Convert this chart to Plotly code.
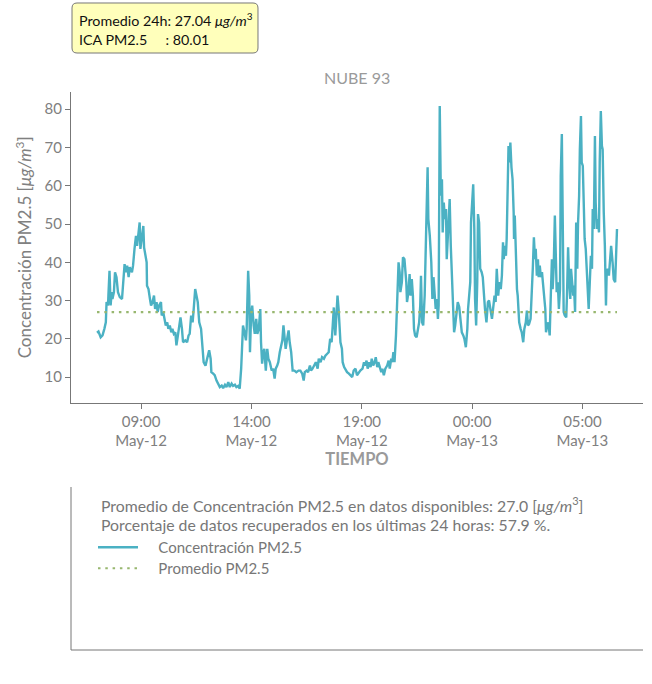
import plotly.graph_objects as go
from datetime import datetime, timedelta

# ---------------- data ----------------
estacion = "NUBE 93"
inicio = "2023-05-12 07:00"          # first sample time
# minutes since `inicio`
minutos = [
    0, 4, 10, 15, 20, 24, 26, 30, 31, 34, 37, 40, 42, 46, 49, 53, 57, 62, 68, 71, 75, 78, 82, 86, 89, 95, 98,
    102, 106, 109, 113, 116, 118, 122, 126, 128, 131, 135, 136, 140, 144, 147, 151, 155, 158, 162, 165, 169,
    174, 176, 180, 184, 187, 191, 194, 198, 202, 205, 209, 213, 216, 220, 223, 227, 231, 234, 240, 245, 249,
    252, 256, 260, 263, 267,
    274, 278, 283, 287, 290, 295, 300, 305, 309, 311, 316, 320, 325, 329, 334, 339, 343, 348, 352, 357, 361,
    366, 370, 375, 379, 384, 388, 392, 396, 397, 401, 405, 407, 411, 414, 416, 419, 422, 426, 429, 433, 436,
    440, 444, 446, 449, 452, 455, 459, 463, 466, 470, 475, 479, 483, 486, 490, 493, 497, 501, 504, 507, 510,
    513, 517, 521, 524, 528, 532, 537, 542, 548,
    553, 558, 562, 565, 570, 574, 579, 582, 586, 591, 595, 600, 603, 608, 612, 617, 621, 626, 630, 634, 638,
    641, 644, 648, 651, 654, 657, 659, 662, 666, 668, 672, 677, 680, 685, 689, 694, 698, 703, 707, 712, 716,
    722, 726, 729, 733, 736, 740, 744, 747, 751, 755, 758, 762, 765, 769, 773, 776, 780, 784, 789, 793, 796,
    800, 803, 806, 809, 813, 815, 818, 820, 823, 825, 829, 832,
    836, 841, 843, 847, 850, 853, 856, 859, 862, 865, 869, 872, 876, 879, 881, 884, 887, 891, 893, 896, 899,
    901, 905, 909, 912, 915, 918, 921, 924, 927, 929, 932, 935, 938, 940, 943, 946, 949, 951, 954, 957, 959,
    962, 965, 968, 971, 974, 978, 981, 985, 988, 992, 996, 999, 1003, 1007, 1009, 1012, 1015, 1017, 1020,
    1023, 1026, 1028, 1031, 1034, 1036, 1039, 1042, 1046, 1049, 1052, 1055, 1059, 1063, 1066, 1070, 1074,
    1077, 1081, 1084, 1087, 1091, 1094, 1098, 1101, 1104, 1106, 1109, 1112, 1114, 1117,
    1119, 1122, 1124, 1127, 1130, 1133, 1134, 1136, 1139, 1142, 1144, 1148, 1152, 1155, 1159, 1162, 1166,
    1169, 1172, 1175, 1179, 1182, 1185, 1188, 1191, 1193, 1196, 1199, 1201, 1204, 1207, 1210, 1213, 1216,
    1219, 1221, 1225, 1228, 1231, 1234, 1237, 1239, 1242, 1245, 1248, 1250, 1253, 1256, 1259, 1261, 1264,
    1267, 1269, 1272, 1276, 1278, 1281, 1284, 1287, 1289, 1292, 1295, 1297, 1300, 1303, 1306, 1308, 1311,
    1313, 1316, 1318, 1321, 1324, 1326, 1329, 1332, 1335, 1337, 1340, 1343, 1346, 1348, 1351, 1354, 1356,
    1359, 1362, 1365, 1367, 1370, 1373, 1375, 1378, 1381, 1384, 1386, 1389, 1392, 1394, 1398, 1402, 1405,
    1409, 1412, 1414,
]
pm25 = [
    21.6, 21.9, 20.4, 20.9, 22.6, 24.3, 29.6, 28.7, 31.3, 37.8, 28.7, 32.2, 30.4, 32.2, 37.4, 36.1, 32.2, 30.9,
    30.4, 34.8, 39.5, 37.4, 39.1, 36.1, 38.7, 37.4, 39.1,
    43.5, 46.9, 44.3, 47.8, 50.4, 43.5, 46.1, 49.5, 43.9, 42.6, 40.0, 33.9, 33.0, 30.4, 28.7, 29.6, 31.3, 27.8,
    29.6, 27.0, 28.7,
    29.6, 26.1, 27.0, 25.2, 23.5, 24.3, 22.6, 23.5, 21.7, 22.6, 21.3, 21.7, 18.3, 20.9, 23.5, 25.6, 22.6, 19.1,
    19.6, 19.1, 20.9,
    21.3, 26.1, 24.3, 27.8, 33.0,
    29.6, 24.3, 22.6, 17.4, 13.9, 13.0, 14.8, 17.0, 14.8, 11.3, 10.9, 10.5, 9.1, 8.3, 7.4, 7.8, 7.1, 8.0, 7.4,
    8.7, 7.4,
    8.3, 7.7, 8.0, 7.4, 7.7, 7.0, 12.2, 19.1, 23.5, 21.7, 19.6, 22.6, 37.8, 31.3, 16.5, 26.1, 28.7, 23.5, 21.3,
    25.2, 21.3,
    22.6, 27.8, 19.1, 13.5, 16.5, 17.4, 11.7, 17.4, 14.8, 13.9, 11.7, 12.2, 9.6, 12.2, 13.0, 13.9, 16.5, 18.7,
    19.6, 23.5, 19.1,
    17.4, 20.0, 22.2, 19.1, 16.5, 11.7, 11.7, 11.3, 11.7,
    11.7, 10.9, 9.1, 11.3, 11.7, 11.3, 13.0, 11.7, 12.2, 13.0, 13.9, 12.2, 14.8, 13.9, 15.2, 14.8, 15.6, 16.1,
    16.5, 20.0, 19.1,
    23.5, 28.2, 20.9, 27.0, 31.3, 27.8, 22.6, 19.1, 17.4, 13.9, 12.6, 11.7, 11.3, 10.9, 10.5, 10.0, 11.7, 12.2,
    10.5, 11.3, 11.7,
    12.2, 13.9, 13.0, 14.3, 12.2, 13.9, 12.6, 14.8, 13.0, 13.9, 15.2, 12.6, 13.9, 12.2, 11.3, 12.2, 10.5, 12.2,
    13.0, 14.3, 12.2,
    14.8, 13.9, 16.5, 13.9, 20.9, 27.0, 34.8, 40.0, 37.4, 32.2, 34.8, 41.3,
    40.8, 34.8, 29.6, 32.2, 36.9, 31.3, 35.6, 31.3, 22.6, 20.9, 20.4, 22.6, 24.3, 28.7, 36.5, 24.3, 23.5, 31.3,
    40.0, 53.0, 64.8,
    51.3, 46.9, 40.0, 30.4, 36.1, 32.2, 27.8, 30.4, 25.2, 28.7, 80.8, 57.4, 61.7, 47.8, 55.6, 51.3, 53.9, 40.8,
    47.8, 53.0, 56.5,
    44.3, 37.4, 29.6, 21.7, 23.5, 27.8, 29.6, 28.3, 24.3, 21.7, 20.9, 20.0, 17.8, 22.6, 27.8, 30.4, 34.8, 50.4,
    54.8,
    60.4, 48.7, 30.4, 23.5, 34.8, 52.6, 50.4, 38.3, 37.4, 36.1, 31.3, 27.8, 24.3, 29.6, 30.0, 27.0, 25.2,
    27.8, 31.3, 29.6, 38.3, 31.3, 34.8, 33.0, 36.5, 45.2, 40.8, 44.3, 41.7, 46.1, 61.7,
    70.4, 66.1, 71.3, 64.8, 61.7, 53.0, 46.1, 52.2, 40.0, 33.0, 31.3, 24.3, 22.6, 21.7, 19.1, 22.6, 24.3,
    27.4, 23.5, 23.9, 25.2, 30.4, 38.3, 46.5, 40.8, 43.5, 36.5, 40.8, 36.1, 39.1, 36.1, 37.4, 34.8, 31.3,
    27.8, 21.7, 24.3, 23.5, 20.9, 31.3, 40.8, 33.0, 39.1, 52.2, 38.3, 32.2, 34.8, 27.8, 33.0, 62.6, 73.5,
    40.0, 27.0, 26.1, 25.6, 31.3, 43.9, 34.8, 30.4, 38.3, 34.8, 31.3, 33.9, 27.0, 50.4, 38.3, 50.0, 57.4,
    69.5, 78.2, 66.1, 65.2, 53.9, 46.1, 43.5, 36.5, 31.3, 27.8, 34.8, 41.7, 38.3, 53.9, 48.7, 73.0, 55.6,
    48.7, 51.3, 47.8, 66.1, 79.5, 70.4, 69.5, 53.0, 44.3, 28.7, 37.4, 38.3, 36.5, 39.1, 44.3, 40.0, 35.6,
    34.8, 41.7, 48.7,
]
promedio_pm25 = 27.0
promedio_24h = 27.04
ica_pm25 = 80.01
porcentaje_recuperado = 57.9
tick_inicio = "2023-05-12 09:00"
tick_horas = 5
serie_nombres = ["Concentración PM2.5", "Promedio PM2.5"]

# ---------------- styling ----------------
FONT = "Lato"
TEAL = "#4BB1C3"
GREEN = "#98B76F"
AXIS = "#777777"
TXT = "#808080"
NB = "\u00a0"

t0 = datetime.strptime(inicio, "%Y-%m-%d %H:%M")
tiempos = [t0 + timedelta(minutes=m) for m in minutos]

span = tiempos[-1] - tiempos[0]
xr = [tiempos[0] - span * 0.05, tiempos[-1] + span * 0.05]
ymin, ymax = min(pm25), max(pm25)
ypad = (ymax - ymin) * 0.05
yr = [ymin - ypad, ymax + ypad]

W, H = 652, 684
ML, MR, MT, MB = 71, 9, 92, 34
PH = H - MT - MB
PW = W - ML - MR


def py(pix):  # pixel row -> paper y
    return (H - MB - pix) / PH


def px(pix):  # pixel column -> paper x
    return (pix - ML) / PW


def rounded_box(x0, y0, x1, y1, r):
    """SVG path (paper coords) of a rounded rectangle given in pixels."""
    pts = []
    X = lambda v: f"{px(v):.5f}"
    Y = lambda v: f"{py(v):.5f}"
    pts.append(f"M{X(x0 + r)},{Y(y0)}")
    pts.append(f"L{X(x1 - r)},{Y(y0)}")
    pts.append(f"Q{X(x1)},{Y(y0)} {X(x1)},{Y(y0 + r)}")
    pts.append(f"L{X(x1)},{Y(y1 - r)}")
    pts.append(f"Q{X(x1)},{Y(y1)} {X(x1 - r)},{Y(y1)}")
    pts.append(f"L{X(x0 + r)},{Y(y1)}")
    pts.append(f"Q{X(x0)},{Y(y1)} {X(x0)},{Y(y1 - r)}")
    pts.append(f"L{X(x0)},{Y(y0 + r)}")
    pts.append(f"Q{X(x0)},{Y(y0)} {X(x0 + r)},{Y(y0)}Z")
    return " ".join(pts)


fig = go.Figure()
fig.add_trace(go.Scatter(
    x=tiempos, y=pm25, mode="lines", name=NB * 4 + serie_nombres[0], legend="legend",
    line=dict(color=TEAL, width=2.4), xaxis="x", yaxis="y"))
fig.add_trace(go.Scatter(
    x=[tiempos[0], tiempos[-1]], y=[promedio_pm25, promedio_pm25], mode="lines",
    name=NB * 4 + serie_nombres[1], legend="legend2",
    line=dict(color=GREEN, width=2.2, dash="2.5px,4.8px"),
    xaxis="x", yaxis="y"))

unit = "<i>μg/m</i><sup>3</sup>"
leg_common = dict(xanchor="left", yanchor="top", font=dict(size=15, color="#777777", family=FONT),
                  bgcolor="rgba(0,0,0,0)", itemwidth=40)

fig.update_layout(
    width=W, height=H,
    margin=dict(l=ML, r=MR, t=MT, b=MB, autoexpand=False),
    paper_bgcolor="white", plot_bgcolor="white",
    font=dict(family=FONT, color=TXT),
    showlegend=True,
    legend=dict(x=px(93), y=py(531), **leg_common),
    legend2=dict(x=px(93), y=py(552), **leg_common),
    xaxis=dict(
        domain=[0, 1], anchor="y", type="date", range=xr,
        tick0=tick_inicio, dtick=tick_horas * 3600 * 1000,
        tickformat="%H:%M<br>%b-%d",
        showline=True, linecolor=AXIS, linewidth=1, mirror=False,
        ticks="outside", ticklen=5, tickcolor=AXIS,
        showgrid=False, zeroline=False, automargin=False,
        tickfont=dict(size=15, color=TXT, family=FONT),
        title=dict(text="<b>TIEMPO</b>", font=dict(size=16.5, color="#9A9A9A", family=FONT), standoff=4),
    ),
    yaxis=dict(
        domain=[py(402.7), 1], anchor="x", range=yr,
        tick0=10, dtick=10,
        showline=True, linecolor=AXIS, linewidth=1,
        ticks="outside", ticklen=5, tickcolor=AXIS,
        showgrid=False, zeroline=False, automargin=False,
        tickfont=dict(size=15, color=TXT, family=FONT),
        title=dict(text="Concentración PM2.5 [" + unit + "]",
                   font=dict(size=17, color=TXT, family=FONT), standoff=8),
    ),
)

annotations = [
    dict(text=estacion, xref="paper", yref="paper", x=0.5, y=py(77), xanchor="center",
         yanchor="middle", showarrow=False, font=dict(size=16, color="#9A9A9A", family=FONT)),
    dict(text=f"Promedio 24h: {promedio_24h:.2f} {unit}",
         xref="paper", yref="paper", x=px(77), y=py(19), xanchor="left", yanchor="middle",
         align="left", showarrow=False, font=dict(size=14.3, color="#111111", family=FONT)),
    dict(text=f"ICA PM2.5{NB * 5}: {ica_pm25:.2f}",
         xref="paper", yref="paper", x=px(77), y=py(39.5), xanchor="left", yanchor="middle",
         align="left", showarrow=False, font=dict(size=14.3, color="#111111", family=FONT)),
    dict(text=f"Promedio de Concentración PM2.5 en datos disponibles: {promedio_pm25:.1f} [{unit}]",
         xref="paper", yref="paper", x=px(99), y=py(504), xanchor="left", yanchor="middle",
         showarrow=False, font=dict(size=15.8, color="#777777", family=FONT)),
    dict(text=f"Porcentaje de datos recuperados en los últimas 24 horas: {porcentaje_recuperado:.1f} %.",
         xref="paper", yref="paper", x=px(99), y=py(524), xanchor="left", yanchor="middle",
         showarrow=False, font=dict(size=15.8, color="#777777", family=FONT)),
]
shapes = [
    # yellow info box (rounded)
    dict(type="path", xref="paper", yref="paper", path=rounded_box(72, 3, 258, 53, 5),
         fillcolor="#FFFFBB", line=dict(color="#777777", width=1), layer="above"),
    # frame of the lower info panel (left and bottom edges only)
    dict(type="line", xref="paper", yref="paper", x0=0, x1=0, y0=0, y1=py(487),
         line=dict(color=AXIS, width=1)),
    dict(type="line", xref="paper", yref="paper", x0=0, x1=1, y0=0, y1=0,
         line=dict(color=AXIS, width=1)),
]
fig.update_layout(annotations=annotations, shapes=shapes)

fig.write_html("out.html", config={"displayModeBar": False},
               post_script="document.body.style.margin='0';")
